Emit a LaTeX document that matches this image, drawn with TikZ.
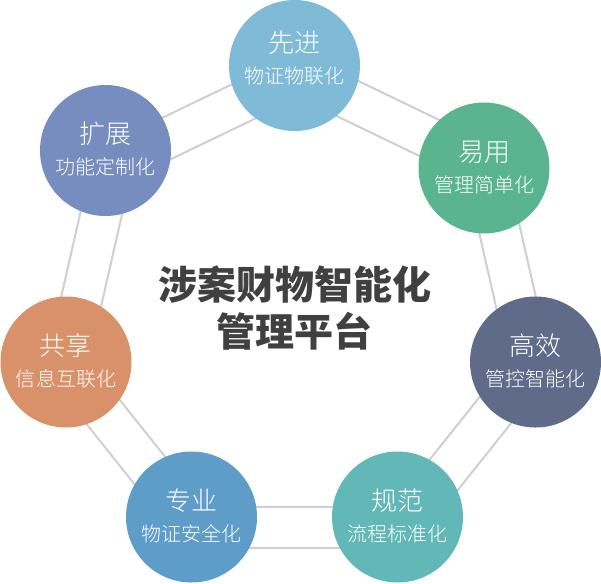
\documentclass[tikz,border=0pt]{standalone}
\usepackage{fontspec}
\newfontfamily\cjk{Noto Sans CJK SC}
\newfontfamily\cjklight{Noto Sans CJK SC Light}
\usetikzlibrary{shapes.geometric}
\definecolor{ringgray}{HTML}{CFCFCF}
\definecolor{titlegray}{HTML}{404040}
\definecolor{cxianjin}{HTML}{7FBAD7}
\definecolor{cyiyong}{HTML}{5AB490}
\definecolor{cgaoxiao}{HTML}{5F6B88}
\definecolor{cguifan}{HTML}{62B8B7}
\definecolor{czhuanye}{HTML}{5E9DC8}
\definecolor{cgongxiang}{HTML}{D99169}
\definecolor{ckuozhan}{HTML}{778DC0}
\begin{document}
\begin{tikzpicture}[x=1pt,y=-1pt,
  ring/.style={draw=ringgray,line width=2pt,regular polygon,regular polygon sides=7,inner sep=0pt},
  petal/.style={circle,minimum size=131pt,inner sep=0pt,text=white,align=center,
    font=\cjklight\fontsize{20}{30.7}\selectfont,text height=48.2pt,text depth=0pt}]
\useasboundingbox (0,0) rectangle (601,583);
\node[ring,minimum size=521.6pt] (outerring) at (298.5,313) {};
\node[ring,minimum size=430.6pt] (innerring) at (298.5,313) {};

\node[petal,fill=cxianjin,text height=36.2pt] (xianjin) at (294.5,65.5) {{\fontsize{26}{30.7}\selectfont 先进}\\物证物联化};
\node[petal,fill=cyiyong] (yiyong) at (484,168) {{\fontsize{26}{30.7}\selectfont 易用}\\管理简单化};
\node[petal,fill=cgaoxiao] (gaoxiao) at (535.5,362) {{\fontsize{26}{30.7}\selectfont 高效}\\管控智能化};
\node[petal,fill=cguifan] (guifan) at (397.5,517) {{\fontsize{26}{30.7}\selectfont 规范}\\流程标准化};
\node[petal,fill=czhuanye] (zhuanye) at (191.5,517) {{\fontsize{26}{30.7}\selectfont 专业}\\物证安全化};
\node[petal,fill=cgongxiang] (gongxiang) at (66,362) {{\fontsize{26}{30.7}\selectfont 共享}\\信息互联化};
\node[petal,fill=ckuozhan] (kuozhan) at (105.5,150.5) {{\fontsize{26}{30.7}\selectfont 扩展}\\功能定制化};

\node[anchor=base,align=center,text=titlegray,font=\cjk\bfseries\fontsize{39}{46.5}\selectfont] (platform) at (294.5,346.3) {涉案财物智能化\\管理平台};
\end{tikzpicture}
\end{document}
